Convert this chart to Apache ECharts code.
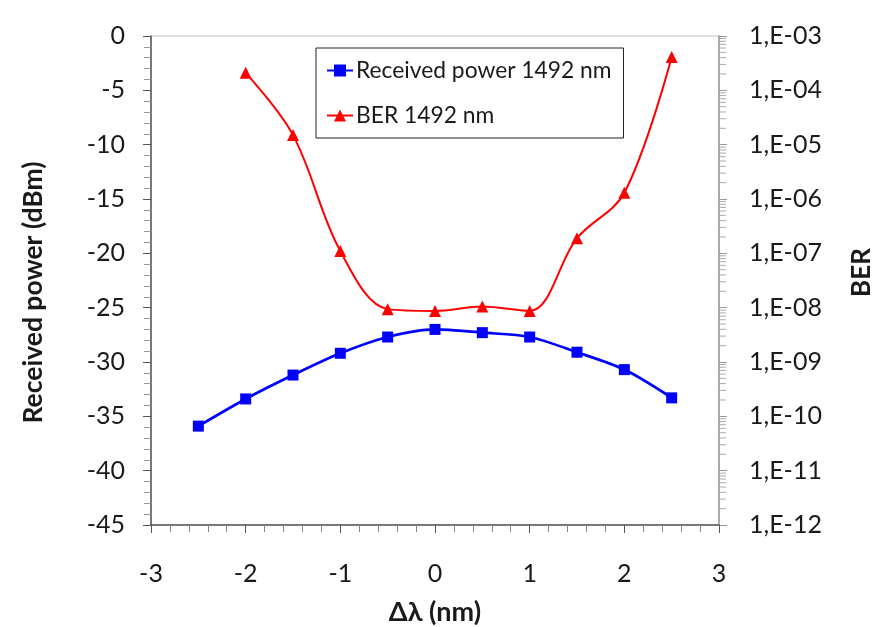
<!DOCTYPE html>
<html>
<head>
<meta charset="utf-8">
<script src="https://cdn.jsdelivr.net/npm/echarts@6/dist/echarts.min.js"></script>
<style>html,body{margin:0;padding:0;background:#fff}#c{width:890px;height:627px}</style>
</head>
<body>
<div id="c"></div>
<script>
// Data
var deltaLambda = [-2.5, -2, -1.5, -1, -0.5, 0, 0.5, 1, 1.5, 2, 2.5];
var receivedPower = [-35.9, -33.4, -31.2, -29.2, -27.7, -27.0, -27.3, -27.7, -29.1, -30.7, -33.3];
var berLambda = [-2, -1.5, -1, -0.5, 0, 0.5, 1, 1.5, 2, 2.5];
var ber = [2.1e-4, 1.5e-5, 1.1e-7, 9.4e-9, 8.7e-9, 1.05e-8, 8.7e-9, 1.9e-7, 1.3e-6, 4.1e-4];
var seriesNames = ['Received power 1492 nm', 'BER 1492 nm'];

var FONT = 'Lato, "Open Sans", sans-serif';
var TXT = '#1a1a1a';

var chart = echarts.init(document.getElementById('c'), null, {renderer: 'canvas'});

function zip(xs, ys) { return xs.map(function (x, i) { return [x, ys[i]]; }); }

var option = {
  backgroundColor: '#ffffff',
  animation: false,
  textStyle: {fontFamily: FONT, color: TXT},
  grid: {left: 151, right: 171, top: 36, bottom: 102, show: true, borderColor: '#c0c0c0', borderWidth: 1,
         containLabel: false, outerBoundsMode: 'none'},
  legend: {
    data: seriesNames,
    orient: 'vertical',
    left: 316, top: 48,
    padding: [11, 12, 11, 10],
    itemGap: 22,
    itemWidth: 26, itemHeight: 15,
    borderColor: '#222', borderWidth: 1,
    backgroundColor: '#fff',
    textStyle: {fontFamily: FONT, fontSize: 22.8, color: TXT, lineHeight: 23, padding: [0, 0, 0, -2]}
  },
  xAxis: {
    type: 'value', min: -3, max: 3, interval: 1,
    name: 'Δλ (nm)', nameLocation: 'middle', nameGap: 74,
    nameTextStyle: {fontFamily: FONT, fontSize: 27, fontWeight: 'bold', color: TXT},
    axisLine: {show: true, onZero: false, lineStyle: {color: '#555', width: 1.5}},
    axisTick: {show: true, inside: false, length: 8, lineStyle: {color: '#555'}},
    minorTick: {show: true, splitNumber: 5, length: 7, lineStyle: {color: '#888'}},
    splitLine: {show: false}, minorSplitLine: {show: false},
    axisLabel: {fontFamily: FONT, fontSize: 25, color: TXT, margin: 36}
  },
  yAxis: [{
    type: 'value', min: -45, max: 0, interval: 5, position: 'left',
    name: 'Received power (dBm)', nameLocation: 'middle', nameGap: 104, nameRotate: 90,
    nameTextStyle: {fontFamily: FONT, fontSize: 26.5, fontWeight: 'bold', color: TXT, padding: [0, 24, 0, 0]},
    axisLine: {show: true, onZero: false, lineStyle: {color: '#555', width: 1.5}},
    axisTick: {show: true, inside: false, length: 8, lineStyle: {color: '#555'}},
    minorTick: {show: true, splitNumber: 5, length: 7, lineStyle: {color: '#999'}},
    splitLine: {show: false}, minorSplitLine: {show: false},
    axisLabel: {fontFamily: FONT, fontSize: 25, color: TXT, margin: 26}
  }, {
    type: 'log', logBase: 10, min: 1e-12, max: 1e-3, splitNumber: 9, position: 'right',
    name: 'BER', nameLocation: 'middle', nameGap: 130, nameRotate: 90,
    nameTextStyle: {fontFamily: FONT, fontSize: 26, fontWeight: 'bold', color: TXT, padding: [0, 0, 0, 16]},
    axisLine: {show: true, onZero: false, lineStyle: {color: '#999', width: 1.5}},
    axisTick: {show: true, inside: false, length: 8, lineStyle: {color: '#999'}},
    splitLine: {show: false},
    axisLabel: {
      fontFamily: FONT, fontSize: 25, color: TXT, margin: 30,
      formatter: function (v) {
        var n = Math.round(Math.log10(v));
        var a = Math.abs(n);
        return '1,E' + (n < 0 ? '-' : '+') + (a < 10 ? '0' + a : '' + a);
      }
    }
  }],
  series: [{
    name: seriesNames[0], type: 'line', yAxisIndex: 0,
    data: zip(deltaLambda, receivedPower),
    smooth: 0.3,
    symbol: 'rect', symbolSize: 11,
    lineStyle: {color: '#0000ff', width: 2.75},
    itemStyle: {color: '#0000ff'},
    z: 3
  }, {
    name: seriesNames[1], type: 'line', yAxisIndex: 1,
    data: zip(berLambda, ber),
    smooth: 0.35,
    symbol: 'triangle', symbolSize: 12,
    lineStyle: {color: '#ff0000', width: 2},
    itemStyle: {color: '#ff0000'},
    z: 4
  }]
};
chart.setOption(option);

// Minor log ticks on the right axis (2..9 within each decade), placed via the axis scale
var minorVals = [];
for (var e = -12; e < -3; e++) {
  for (var k = 2; k <= 9; k++) minorVals.push(k * Math.pow(10, e));
}
var xRight = chart.convertToPixel({xAxisIndex: 0}, 3);
var g = minorVals.map(function (v) {
  var y = chart.convertToPixel({yAxisIndex: 1}, v);
  return {type: 'line', silent: true, z: 10,
    shape: {x1: xRight, y1: y, x2: xRight + 7, y2: y},
    style: {stroke: '#aaa', lineWidth: 1}};
});
chart.setOption({graphic: g});
</script>
</body>
</html>
